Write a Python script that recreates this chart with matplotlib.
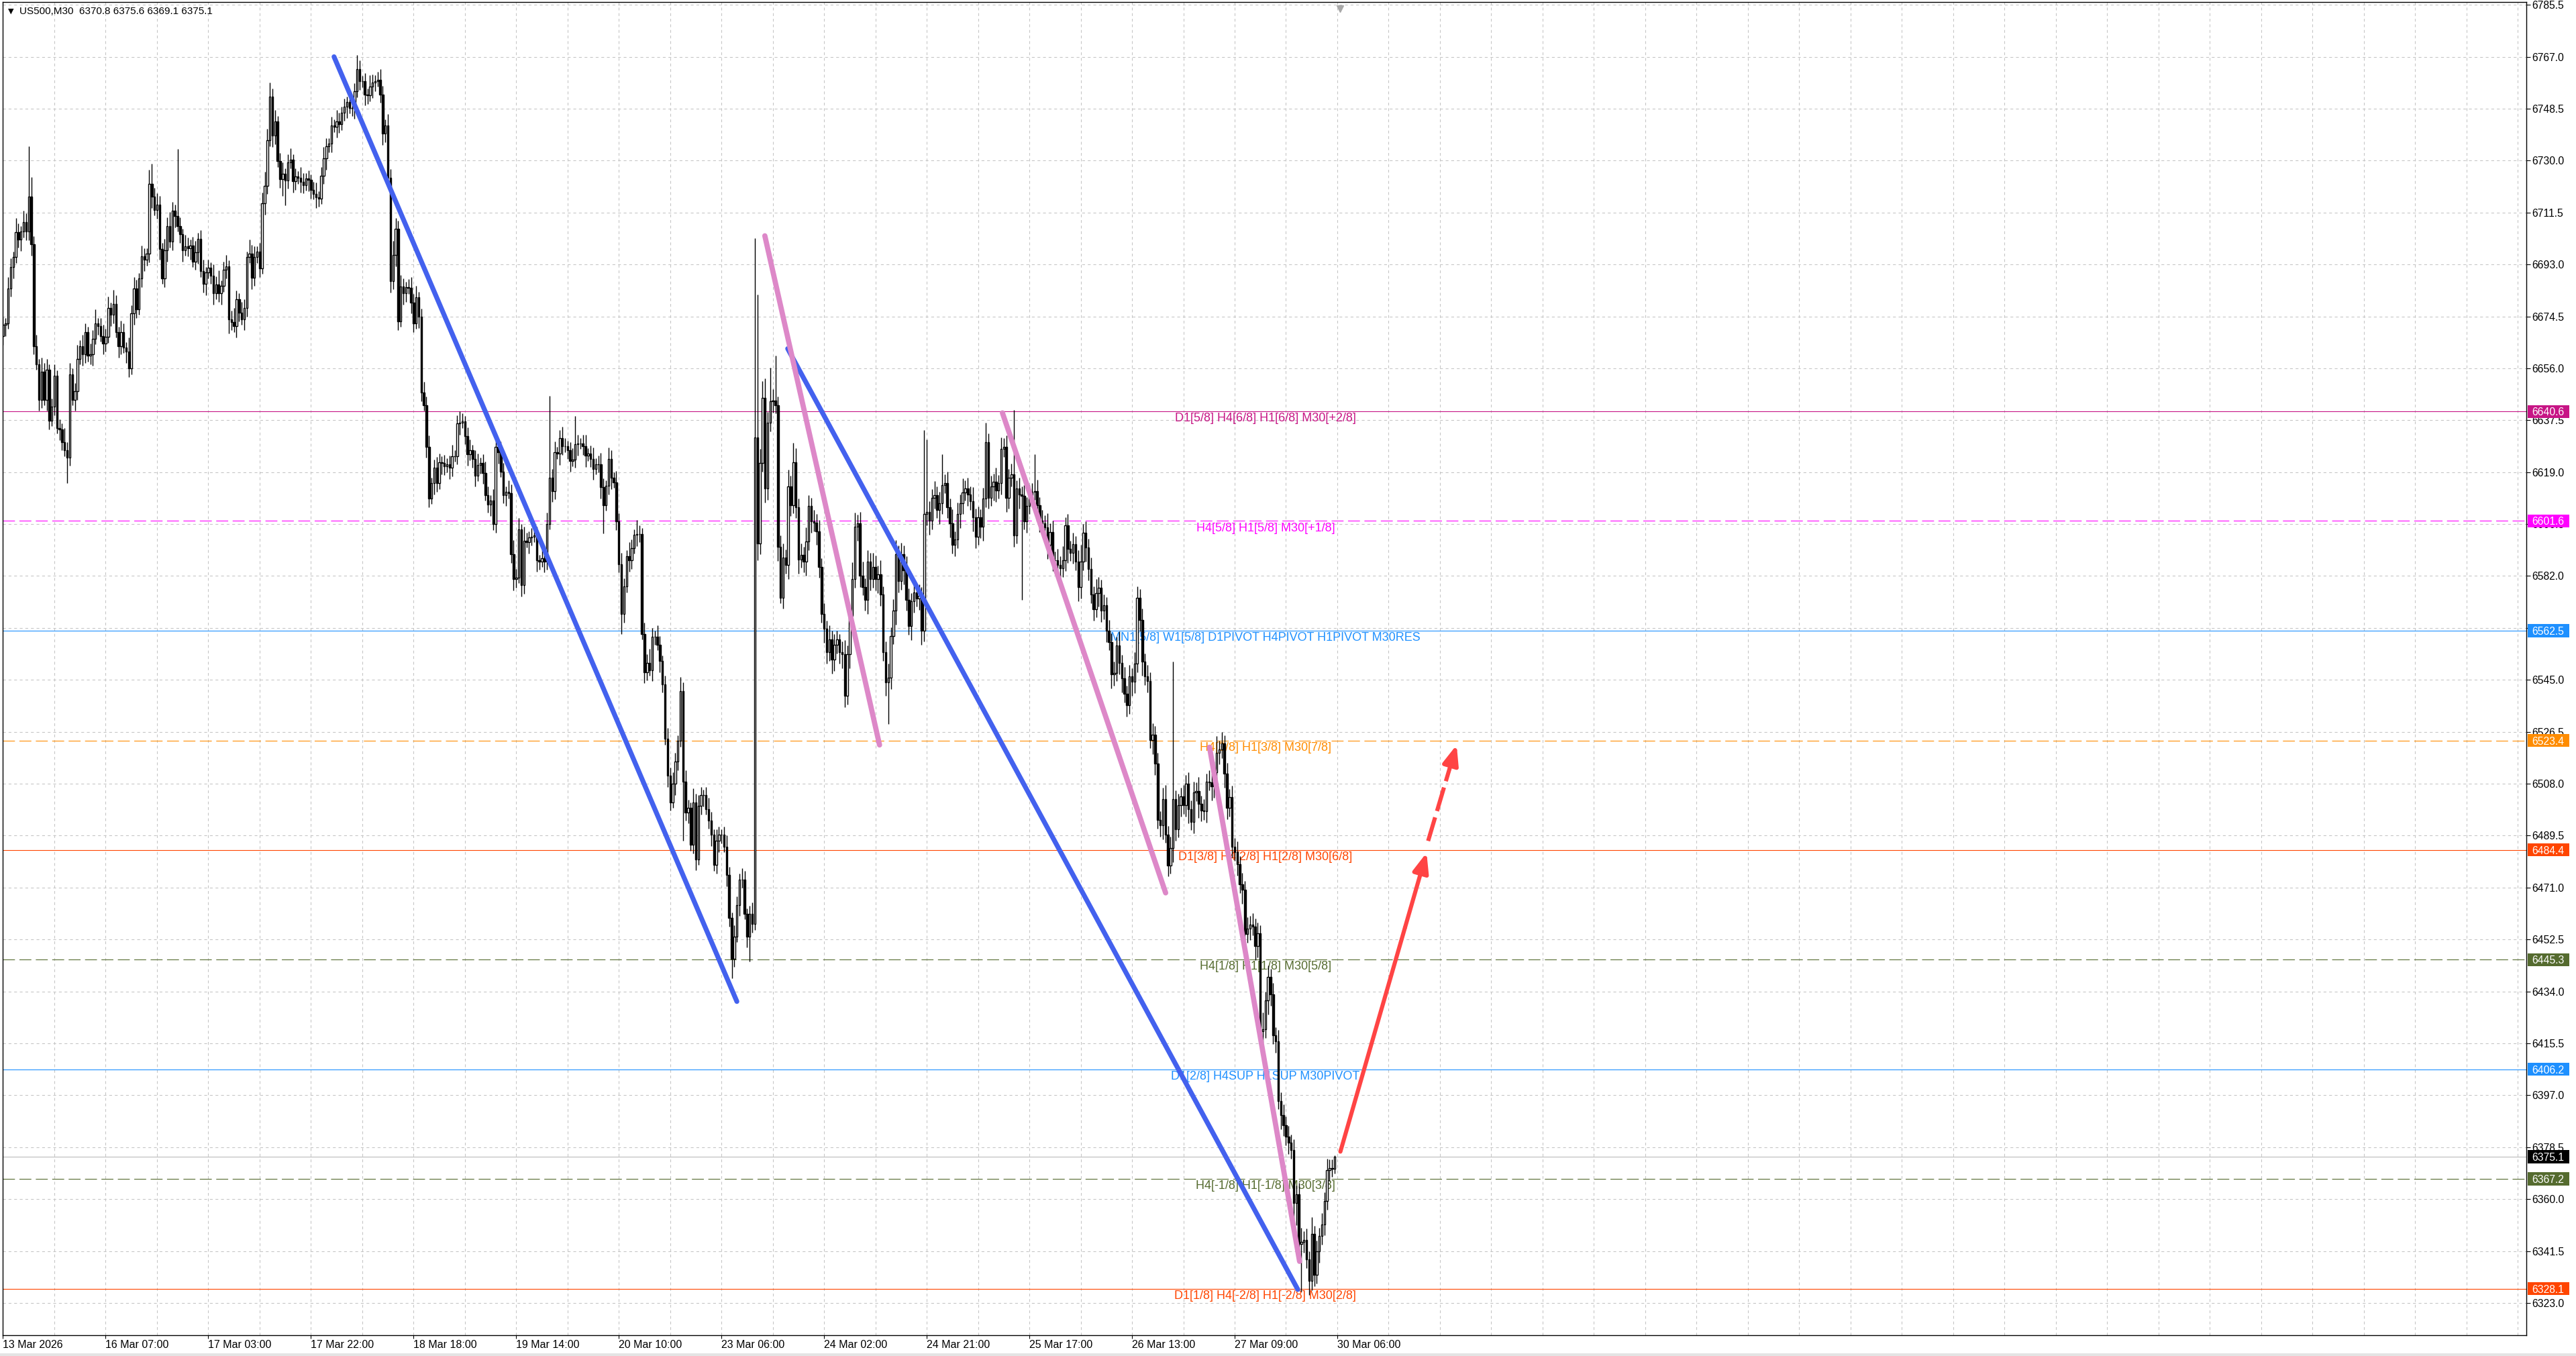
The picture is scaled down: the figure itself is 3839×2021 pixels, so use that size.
import numpy as np
import matplotlib
matplotlib.use("Agg")
import matplotlib.pyplot as plt
from matplotlib.patches import Rectangle
from matplotlib.transforms import blended_transform_factory

plt.rcParams['font.family'] = ['Liberation Sans', 'DejaVu Sans']

# ---- data (US500, M30) ----
first_open = 6667.4
closes = [
    6671.5, 6672.0, 6684.5, 6692.1, 6695.6, 6704.5, 6701.9, 6704.7, 6708.2, 6704.7, 6717.2, 6700.1, 6663.9, 6657.4, 6644.8, 6654.9, 6644.8, 6655.4, 6637.3, 6642.3,
    6653.3, 6634.8, 6634.3, 6629.7, 6626.7, 6624.2, 6653.9, 6644.8, 6647.8, 6659.4, 6663.9, 6660.9, 6668.9, 6660.4, 6660.9, 6666.6, 6672.0, 6671.0, 6667.5, 6664.9,
    6667.1, 6677.5, 6675.0, 6679.0, 6668.9, 6663.9, 6668.9, 6663.4, 6661.9, 6655.9, 6675.5, 6684.5, 6677.0, 6688.0, 6695.8, 6694.6, 6696.8, 6721.8, 6717.2, 6712.4,
    6714.4, 6698.6, 6688.0, 6698.1, 6706.7, 6701.1, 6712.2, 6710.2, 6706.7, 6703.7, 6698.1, 6699.5, 6698.8, 6699.8, 6694.1, 6697.3, 6702.2, 6690.6, 6686.0, 6690.1,
    6691.8, 6689.0, 6682.7, 6685.8, 6682.7, 6685.3, 6691.1, 6692.4, 6673.5, 6672.5, 6671.0, 6680.7, 6675.7, 6673.5, 6677.5, 6695.6, 6696.9, 6688.3, 6695.6, 6697.6,
    6691.6, 6714.7, 6721.1, 6737.2, 6752.7, 6738.9, 6743.9, 6729.8, 6723.3, 6725.3, 6723.0, 6729.3, 6730.3, 6722.6, 6724.3, 6723.8, 6722.5, 6721.3, 6723.6, 6723.1,
    6719.5, 6718.1, 6717.0, 6716.5, 6724.6, 6730.8, 6735.0, 6736.0, 6742.6, 6742.1, 6744.0, 6742.9, 6747.1, 6749.1, 6750.9, 6748.8, 6748.8, 6754.6, 6762.6, 6758.2,
    6758.2, 6753.6, 6753.2, 6756.4, 6757.8, 6758.4, 6758.7, 6753.6, 6739.6, 6742.6, 6723.9, 6687.1, 6696.3, 6705.6, 6672.7, 6685.1, 6682.7, 6684.8, 6684.6, 6679.5,
    6672.0, 6681.3, 6674.3, 6647.3, 6642.9, 6628.1, 6609.6, 6615.0, 6620.5, 6615.0, 6622.6, 6622.2, 6621.0, 6621.9, 6620.5, 6624.7, 6624.7, 6636.3, 6636.6, 6637.0,
    6631.9, 6625.3, 6626.7, 6623.7, 6617.8, 6621.5, 6622.3, 6618.8, 6610.9, 6607.5, 6608.9, 6600.4, 6628.1, 6626.0, 6619.2, 6610.9, 6612.0, 6611.6, 6589.7, 6580.8,
    6581.4, 6598.6, 6578.7, 6594.5, 6594.1, 6595.8, 6596.0, 6596.5, 6587.6, 6587.2, 6588.3, 6587.2, 6600.6, 6617.1, 6612.3, 6626.0, 6625.6, 6631.1, 6628.2, 6628.2,
    6626.7, 6623.1, 6623.5, 6628.9, 6629.2, 6629.2, 6628.2, 6624.9, 6625.6, 6623.8, 6620.2, 6621.9, 6621.9, 6613.7, 6607.2, 6614.1, 6623.8, 6616.9, 6615.4, 6601.4,
    6586.2, 6568.4, 6578.2, 6589.1, 6587.6, 6592.0, 6596.6, 6597.0, 6597.0, 6561.3, 6547.8, 6551.1, 6548.5, 6560.4, 6560.4, 6557.5, 6551.7, 6543.4, 6523.9, 6510.8,
    6501.4, 6508.0, 6515.9, 6523.2, 6541.0, 6508.7, 6497.8, 6499.3, 6486.2, 6501.4, 6481.1, 6500.0, 6503.9, 6503.9, 6499.0, 6494.9, 6489.8, 6479.0, 6487.7, 6489.8,
    6489.8, 6485.5, 6475.4, 6460.1, 6445.7, 6453.6, 6464.8, 6473.9, 6473.9, 6461.6, 6453.6, 6461.6, 6458.0, 6631.3, 6593.7, 6622.2, 6645.5, 6613.1, 6636.5, 6644.2,
    6644.5, 6642.9, 6592.4, 6574.3, 6588.5, 6585.9, 6613.8, 6607.3, 6622.5, 6606.6, 6587.9, 6589.5, 6587.2, 6594.3, 6606.9, 6601.5, 6601.0, 6598.0, 6585.3, 6568.4,
    6563.2, 6554.8, 6559.4, 6552.2, 6557.4, 6559.4, 6554.8, 6554.2, 6539.3, 6554.2, 6567.8, 6580.8, 6599.5, 6600.8, 6582.1, 6578.1, 6573.6, 6587.2, 6580.8, 6585.3,
    6580.8, 6582.6, 6575.3, 6554.8, 6544.2, 6545.8, 6560.7, 6569.7, 6589.8, 6580.1, 6589.8, 6584.0, 6573.6, 6564.1, 6573.0, 6576.2, 6574.0, 6575.0, 6562.6, 6604.0,
    6604.7, 6601.7, 6609.9, 6610.8, 6605.6, 6608.0, 6614.4, 6615.1, 6606.6, 6600.8, 6593.0, 6595.0, 6604.1, 6608.0, 6611.8, 6613.1, 6611.0, 6608.6, 6603.0, 6596.0,
    6602.8, 6599.5, 6609.5, 6629.7, 6609.9, 6613.8, 6615.5, 6612.5, 6615.0, 6627.4, 6628.0, 6609.9, 6617.0, 6618.1, 6596.5, 6613.1, 6611.0, 6610.5, 6601.5, 6607.0,
    6610.5, 6612.1, 6612.3, 6607.1, 6601.6, 6600.7, 6599.4, 6593.1, 6597.7, 6587.7, 6587.7, 6586.0, 6584.7, 6587.7, 6600.0, 6591.6, 6590.3, 6593.3, 6587.1, 6578.0,
    6587.1, 6597.4, 6592.2, 6584.5, 6575.4, 6570.2, 6576.0, 6577.7, 6569.6, 6571.5, 6562.4, 6558.5, 6546.9, 6547.5, 6557.3, 6551.0, 6545.6, 6540.0, 6535.9, 6546.2,
    6544.3, 6550.8, 6574.3, 6566.3, 6551.4, 6546.2, 6544.6, 6523.6, 6525.5, 6515.1, 6495.1, 6493.1, 6502.6, 6489.9, 6478.9, 6485.0, 6502.6, 6491.8, 6500.3, 6503.5,
    6500.3, 6508.0, 6499.0, 6494.4, 6504.8, 6505.4, 6500.8, 6498.5, 6498.1, 6508.7, 6508.5, 6507.0, 6512.0, 6518.9, 6520.2, 6522.3, 6511.5, 6499.4, 6503.2, 6485.6,
    6483.5, 6479.3, 6472.1, 6470.3, 6454.4, 6456.4, 6457.8, 6457.0, 6450.2, 6454.6, 6419.7, 6420.5, 6430.8, 6439.1, 6432.9, 6418.3, 6416.2, 6395.0, 6389.8, 6386.4,
    6382.2, 6380.0, 6377.4, 6358.6, 6361.7, 6344.0, 6344.8, 6345.5, 6338.5, 6330.9, 6347.5, 6333.0, 6341.3, 6346.8, 6351.0, 6359.3, 6370.4, 6371.1, 6370.8, 6375.1,
]
# wick lengths above / below the body, in points
wick_up = [
    3, 2, 4, 3, 2, 5, 3, 2, 4, 3, 18, 7, 3, 4, 2, 5, 3, 4, 2, 3,
    4, 2, 3, 2, 5, 3, 4, 2, 3, 5, 2, 4, 3, 2, 4, 3, 5, 2, 3, 4,
    3, 4, 2, 5, 3, 2, 4, 3, 2, 5, 3, 4, 3, 2, 4, 3, 2, 5, 7, 3,
    4, 3, 2, 4, 3, 5, 3, 2, 24, 3, 2, 4, 3, 2, 3, 4, 2, 3, 4, 2,
    3, 2, 4, 3, 5, 2, 3, 4, 2, 3, 5, 3, 2, 4, 3, 2, 5, 3, 4, 2,
    3, 4, 5, 4, 5, 3, 4, 2, 3, 4, 2, 3, 4, 2, 3, 2, 4, 3, 2, 3,
    2, 3, 4, 2, 3, 4, 3, 2, 3, 2, 4, 3, 2, 3, 2, 3, 4, 3, 5, 3,
    2, 3, 2, 4, 3, 2, 3, 4, 3, 2, 4, 3, 5, 4, 3, 4, 3, 2, 3, 4,
    3, 4, 2, 3, 4, 3, 4, 2, 3, 4, 3, 2, 3, 2, 3, 4, 2, 3, 4, 3,
    2, 3, 4, 2, 3, 4, 2, 3, 4, 3, 2, 4, 3, 2, 4, 3, 2, 4, 3, 5,
    3, 4, 2, 5, 3, 2, 3, 4, 3, 2, 4, 3, 4, 29, 3, 4, 2, 3, 4, 3,
    2, 3, 4, 10, 3, 2, 3, 4, 2, 3, 4, 2, 3, 4, 3, 2, 4, 3, 2, 4,
    3, 4, 3, 2, 5, 3, 2, 5, 3, 2, 4, 3, 5, 3, 2, 4, 3, 2, 3, 4,
    3, 4, 3, 2, 5, 3, 4, 3, 2, 5, 3, 4, 3, 2, 3, 4, 3, 2, 4, 3,
    2, 3, 4, 3, 2, 4, 3, 2, 4, 3, 2, 3, 4, 71, 51, 5, 6, 7, 4, 12,
    4, 16, 3, 4, 5, 3, 6, 4, 7, 5, 3, 4, 3, 5, 4, 3, 4, 3, 4, 3,
    4, 3, 5, 3, 4, 3, 2, 4, 5, 3, 4, 6, 5, 3, 4, 5, 3, 4, 3, 5,
    4, 3, 5, 3, 4, 5, 3, 4, 5, 3, 4, 3, 5, 4, 3, 4, 3, 4, 3, 30,
    26, 4, 3, 5, 3, 4, 11, 3, 4, 3, 5, 3, 4, 3, 5, 3, 4, 3, 5, 3,
    4, 3, 4, 7, 3, 4, 3, 5, 3, 4, 3, 4, 3, 4, 23, 3, 4, 3, 4, 3,
    4, 3, 13, 4, 3, 4, 3, 5, 3, 4, 3, 4, 3, 5, 3, 4, 3, 4, 3, 4,
    6, 3, 4, 3, 4, 3, 5, 4, 3, 4, 3, 4, 3, 4, 3, 5, 3, 4, 3, 4,
    3, 4, 4, 3, 4, 3, 4, 3, 4, 3, 4, 3, 4, 5, 3, 4, 49, 3, 4, 3,
    4, 3, 4, 3, 4, 3, 5, 3, 4, 3, 4, 3, 4, 6, 3, 4, 3, 4, 3, 4,
    3, 4, 3, 4, 3, 4, 3, 4, 3, 4, 3, 6, 3, 4, 3, 4, 3, 4, 3, 4,
    3, 4, 3, 4, 3, 4, 5, 3, 4, 3, 6, 3, 4, 3, 4, 3, 4, 3, 3, 0.5,
]
wick_dn = [
    3, 4, 2, 3, 4, 2, 3, 4, 2, 3, 3, 4, 3, 2, 4, 3, 2, 4, 3, 2,
    3, 2, 4, 3, 2, 9, 3, 2, 4, 3, 2, 4, 3, 2, 3, 4, 2, 3, 2, 4,
    3, 2, 4, 3, 2, 4, 3, 2, 4, 3, 2, 4, 3, 2, 3, 4, 2, 3, 4, 2,
    3, 4, 2, 3, 4, 2, 3, 4, 2, 3, 4, 2, 3, 4, 2, 3, 4, 2, 3, 4,
    2, 3, 4, 2, 3, 4, 2, 3, 5, 3, 2, 4, 3, 2, 4, 3, 2, 4, 3, 2,
    3, 2, 4, 3, 2, 4, 3, 2, 3, 6, 9, 3, 2, 4, 3, 2, 4, 3, 2, 4,
    3, 2, 4, 3, 2, 3, 4, 2, 3, 2, 4, 3, 2, 3, 4, 2, 3, 4, 2, 3,
    2, 4, 3, 2, 4, 3, 2, 3, 4, 3, 2, 4, 3, 4, 3, 2, 4, 3, 2, 4,
    3, 2, 4, 3, 2, 4, 3, 2, 4, 3, 2, 4, 3, 2, 4, 3, 2, 3, 4, 2,
    3, 4, 2, 3, 4, 2, 3, 4, 2, 3, 4, 2, 3, 4, 2, 3, 4, 2, 3, 4,
    3, 2, 4, 3, 2, 4, 3, 2, 4, 3, 2, 4, 3, 2, 4, 3, 2, 4, 3, 2,
    3, 4, 2, 3, 4, 2, 3, 4, 2, 3, 4, 2, 3, 4, 10, 2, 3, 4, 2, 3,
    3, 7, 3, 2, 4, 3, 2, 4, 3, 2, 4, 3, 2, 4, 3, 2, 4, 3, 2, 4,
    3, 2, 4, 3, 2, 21, 3, 4, 2, 3, 4, 2, 3, 4, 2, 3, 4, 2, 3, 4,
    3, 2, 4, 3, 7, 3, 2, 4, 3, 2, 4, 9, 3, 2, 6, 4, 3, 5, 4, 3,
    4, 3, 5, 2, 4, 3, 5, 4, 3, 4, 5, 3, 4, 5, 3, 4, 3, 5, 4, 3,
    5, 4, 3, 5, 4, 3, 4, 5, 4, 3, 5, 4, 3, 5, 4, 3, 4, 5, 4, 3,
    4, 5, 4, 3, 5, 15, 4, 3, 5, 4, 3, 5, 4, 3, 5, 4, 3, 4, 5, 4,
    4, 5, 3, 4, 3, 5, 4, 3, 4, 5, 3, 4, 3, 5, 4, 3, 4, 3, 5, 4,
    3, 4, 5, 3, 4, 3, 5, 4, 3, 4, 3, 5, 4, 3, 4, 3, 5, 37, 3, 4,
    3, 4, 3, 5, 4, 3, 4, 5, 3, 4, 3, 5, 4, 3, 4, 5, 3, 4, 3, 5,
    4, 3, 5, 4, 3, 4, 3, 5, 4, 3, 4, 3, 5, 4, 3, 4, 5, 3, 4, 3,
    5, 4, 3, 4, 5, 3, 4, 3, 5, 4, 3, 4, 5, 3, 4, 3, 5, 4, 3, 4,
    3, 4, 5, 3, 4, 3, 5, 4, 3, 4, 3, 5, 4, 3, 4, 3, 5, 4, 3, 4,
    3, 4, 3, 5, 4, 3, 4, 3, 5, 4, 3, 4, 3, 5, 4, 3, 4, 3, 5, 4,
    3, 4, 3, 6, 8, 3, 17, 4, 3, 5, 3.5, 4, 3, 4, 3, 4, 3, 4, 3, 1.7,
]

time_labels = ['13 Mar 2026', '16 Mar 07:00', '17 Mar 03:00', '17 Mar 22:00', '18 Mar 18:00',
               '19 Mar 14:00', '20 Mar 10:00', '23 Mar 06:00', '24 Mar 02:00', '24 Mar 21:00',
               '25 Mar 17:00', '26 Mar 13:00', '27 Mar 09:00', '30 Mar 06:00']
label_step = 40      # bars between time labels
grid_step = 20       # bars between vertical grid lines

price_ticks = [6323.0, 6341.5, 6360.0, 6378.5, 6397.0, 6415.5, 6434.0, 6452.5, 6471.0,
               6489.5, 6508.0, 6526.5, 6545.0, 6563.5, 6582.0, 6600.5, 6619.0, 6637.5,
               6656.0, 6674.5, 6693.0, 6711.5, 6730.0, 6748.5, 6767.0, 6785.5]

level_prices = [6640.6, 6601.6, 6562.5, 6523.4, 6484.4, 6445.3, 6406.2, 6367.2, 6328.1]
level_texts = ['D1[5/8] H4[6/8] H1[6/8] M30[+2/8]',
               'H4[5/8] H1[5/8] M30[+1/8]',
               'MN1[5/8] W1[5/8] D1PIVOT H4PIVOT H1PIVOT M30RES',
               'H4[3/8] H1[3/8] M30[7/8]',
               'D1[3/8] H4[2/8] H1[2/8] M30[6/8]',
               'H4[1/8] H1[1/8] M30[5/8]',
               'D1[2/8] H4SUP H1SUP M30PIVOT',
               'H4[-1/8] H1[-1/8] M30[3/8]',
               'D1[1/8] H4[-2/8] H1[-2/8] M30[2/8]']
level_colors = ['#c71585', '#ff00ff', '#1e90ff', '#ff8c00', '#ff4500',
                '#556b2f', '#1e90ff', '#556b2f', '#ff4500']
level_dashed = [False, True, False, True, False, True, False, True, False]
level_label_bar = 492

# trend lines as (bar, price) anchor pairs
blue_lines = [((129.0, 6767.0), (286.0, 6430.4)),
              ((305.8, 6663.0), (504.6, 6327.8))]
pink_lines = [((296.9, 6703.2), (341.6, 6521.8)),
              ((389.5, 6640.1), (453.1, 6469.1)),
              ((470.2, 6521.0), (505.3, 6337.8))]
red_solid = ((521.2, 6376.9), (554.8, 6483.4))
red_dashed = ((555.4, 6487.6), (566.5, 6521.8))

title = 'US500,M30  6370.8 6375.6 6369.1 6375.1'

# ---- figure ----
W, H = 3839, 2021
fig = plt.figure(figsize=(W / 100, H / 100), dpi=100)
fig.patch.set_facecolor('white')
ax = fig.add_axes([4 / W, (H - 1990) / H, (3765 - 4) / W, (1990 - 3) / H])
ax.set_xlim(-0.13, 983.4)
ax.set_ylim(6311.5, 6786.5)

o = np.array([first_open] + closes[:-1])
c = np.array(closes)
hi = np.maximum(o, c) + np.array(wick_up)
lo = np.minimum(o, c) - np.array(wick_dn)
idx = np.arange(len(c))

ax.vlines(idx, lo, hi, color='black', lw=1.0, zorder=2)
bull = c >= o
ax.bar(idx[bull], (c - o)[bull], bottom=o[bull], width=0.64, facecolor='white',
       edgecolor='black', lw=1.0, zorder=2.2)
ax.bar(idx[~bull], (o - c)[~bull], bottom=c[~bull], width=0.64, facecolor='black',
       edgecolor='black', lw=1.0, zorder=2.2)

# grid
ax.set_yticks(price_ticks)
ax.set_yticklabels(['%.1f' % v for v in price_ticks])
xt = [0] + list(range(label_step, label_step * len(time_labels), label_step))
ax.set_xticks(xt)
ax.set_xticklabels(time_labels)
ax.set_xticks(list(range(grid_step, 984, grid_step)), minor=True)
ax.grid(axis='y', color='#c4c4c4', ls=(0, (4, 4)), lw=0.75)
ax.grid(axis='x', which='both', color='#c4c4c4', ls=(0, (4, 4)), lw=0.75)
ax.set_axisbelow(True)

ax.yaxis.tick_right()
ax.tick_params(axis='y', direction='out', length=4.5, width=0.8, pad=1.2,
               labelsize=11.3, colors='black')
ax.tick_params(axis='x', which='major', direction='out', length=3.5, width=0.8,
               pad=1.5, labelsize=11.5)
ax.tick_params(axis='x', which='minor', length=0)
for lab in ax.get_xticklabels():
    lab.set_horizontalalignment('left')
for s in ax.spines.values():
    s.set_color('black')
    s.set_linewidth(1.0)

# levels
for p, t, col, dsh in zip(level_prices, level_texts, level_colors, level_dashed):
    ax.axhline(p, color=col, lw=0.8, ls=(0, (16, 6)) if dsh else '-', zorder=1.8)
    ax.text(level_label_bar, p - 0.5, t, color=col, fontsize=13, ha='center', va='top',
            zorder=1.9)

ax.axhline(closes[-1], color='#c0c0c0', lw=0.9, zorder=1.8)

# trend lines
for (x0, y0), (x1, y1) in blue_lines:
    ax.plot([x0, x1], [y0, y1], color='#4361ee', lw=5.2, solid_capstyle='round', zorder=4)
for (x0, y0), (x1, y1) in pink_lines:
    ax.plot([x0, x1], [y0, y1], color='#dd88c8', lw=5.6, solid_capstyle='round', zorder=4)

red = '#ff4444'
for seg, ls in ((red_solid, '-'), (red_dashed, (0, (6, 1.6)))):
    (x0, y0), (x1, y1) = seg
    xm, ym = x0 + 0.75 * (x1 - x0), y0 + 0.75 * (y1 - y0)
    ax.plot([x0, xm], [y0, ym], color=red, lw=4.4, ls=ls, solid_capstyle='round',
            dash_capstyle='butt', zorder=4)
    ax.annotate('', xy=(x1, y1), xytext=(xm, ym),
                arrowprops=dict(arrowstyle='-|>,head_length=0.4,head_width=0.16',
                                mutation_scale=44, color=red, lw=4.4,
                                shrinkA=0, shrinkB=0), zorder=4)

# price boxes on the right scale
tr = blended_transform_factory(fig.transFigure, ax.transData)
box_prices = level_prices + [closes[-1]]
box_colors = level_colors + ['black']
for p, col in zip(box_prices, box_colors):
    ax.add_patch(Rectangle((3767 / W, p - 2.3), 62 / W, 4.6, transform=tr,
                           facecolor=col, edgecolor='none', clip_on=False, zorder=5))
    ax.text(3773 / W, p, '%.1f' % p, transform=tr, color='white', fontsize=11.3,
            ha='left', va='center_baseline', clip_on=False, zorder=6)

# chart shift marker and title
ax.plot([len(closes) + 1], [0.995], marker='v', ms=7, color='#a8a8a8',
        transform=blended_transform_factory(ax.transData, ax.transAxes),
        clip_on=False, zorder=6)
fig.text(12 / W, 1 - 17 / H, '\u25bc', fontsize=8, va='center', ha='left',
         family=['DejaVu Sans'])
fig.text(29 / W, 1 - 17 / H, title, fontsize=11, va='center', ha='left')

fig.patches.append(Rectangle((0, 0), 1, 4 / H, transform=fig.transFigure,
                             facecolor='#e4e4e4', edgecolor='none'))

fig.savefig('out.png', dpi=100)
